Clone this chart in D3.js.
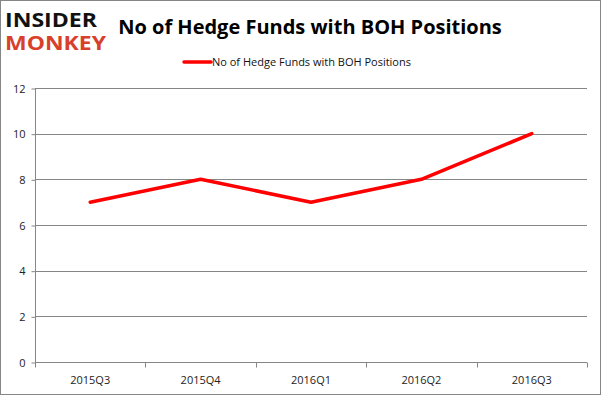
<!DOCTYPE html>
<meta charset="UTF-8">
<html>
<head>
<style>
body { margin: 0; background: #fff; }
text { font-family: "Open Sans", "Liberation Sans", sans-serif; }
.grid line { stroke: #868686; stroke-width: 1px; }
.axis path, .axis line { stroke: #868686; }
.tick text { fill: #222; font-size: 11px; }
</style>
</head>
<body>
<script src="https://cdn.jsdelivr.net/npm/d3@7"></script>
<script>

var quarters = ["2015Q3", "2015Q4", "2016Q1", "2016Q2", "2016Q3"];
var funds = [7, 8, 7, 8, 10];
var yTicks = [0, 2, 4, 6, 8, 10, 12];
var seriesName = "No of Hedge Funds with BOH Positions";

var W = 601, H = 395;
var plot = {left: 35, right: 587, top: 88, bottom: 362};

var svg = d3.select("body").append("svg")
    .attr("width", W)
    .attr("height", H);

// outer frame
svg.append("rect")
    .attr("x", 0.5).attr("y", 0.5)
    .attr("width", W - 1).attr("height", H - 1)
    .attr("fill", "#fff")
    .attr("stroke", "#868686");

var x = d3.scaleBand().domain(quarters).range([plot.left, plot.right]);
var y = d3.scaleLinear().domain([0, 12]).range([plot.bottom, plot.top]);

// gridlines
svg.append("g").attr("class", "grid")
  .selectAll("line")
  .data(yTicks.filter(function(d) { return d > 0; }))
  .enter().append("line")
    .attr("x1", plot.left).attr("x2", plot.right)
    .attr("y1", function(d) { return Math.round(y(d)) + 0.5; })
    .attr("y2", function(d) { return Math.round(y(d)) + 0.5; });

// y axis
var yAxis = svg.append("g").attr("class", "axis")
    .attr("transform", "translate(" + (plot.left + 0.5) + ",0.5)")
    .call(d3.axisLeft(y).tickValues(yTicks).tickSize(4).tickPadding(6).tickSizeOuter(0));
yAxis.select(".domain").attr("d", "M0," + y(12) + "V" + y(0));

// x axis
var xAxis = svg.append("g").attr("class", "axis")
    .attr("transform", "translate(0," + (Math.round(plot.bottom) + 0.5) + ")")
    .call(d3.axisBottom(x).tickSize(0).tickPadding(14));
xAxis.select(".domain").attr("d", "M" + plot.left + ",0H" + plot.right);
xAxis.selectAll(".sep")
  .data(quarters.concat(["end"]))
  .enter().append("line")
    .attr("class", "sep")
    .attr("x1", function(d, i) { return Math.round(plot.left + i * x.step()) + 0.5; })
    .attr("x2", function(d, i) { return Math.round(plot.left + i * x.step()) + 0.5; })
    .attr("y1", 0).attr("y2", 5)
    .attr("stroke", "#868686");

// series line
var line = d3.line()
    .x(function(d, i) { return x(quarters[i]) + x.bandwidth() / 2; })
    .y(function(d) { return y(d); });

svg.append("path")
    .datum(funds)
    .attr("d", line)
    .attr("fill", "none")
    .attr("stroke", "#ff0000")
    .attr("stroke-width", 3.5)
    .attr("stroke-linejoin", "round")
    .attr("stroke-linecap", "round");

// title
svg.append("text")
    .attr("x", 310).attr("y", 34)
    .attr("text-anchor", "middle")
    .attr("font-size", "20px")
    .attr("font-weight", "bold")
    .attr("fill", "#000")
    .text(seriesName);

// legend
svg.append("line")
    .attr("x1", 184).attr("x2", 211)
    .attr("y1", 62).attr("y2", 62)
    .attr("stroke", "#ff0000")
    .attr("stroke-width", 3.5)
    .attr("stroke-linecap", "round");
svg.append("text")
    .attr("x", 212).attr("y", 66)
    .attr("font-size", "11px")
    .attr("fill", "#111")
    .text(seriesName);

// logo
var logo = svg.append("g").attr("transform", "translate(5,0) scale(1,1.35)");
logo.append("text")
    .attr("x", 0).attr("y", 20)
    .attr("font-family", "'DejaVu Sans Condensed', sans-serif")
    .attr("font-weight", "bold")
    .attr("font-size", "14px")
    .attr("textLength", 92)
    .attr("lengthAdjust", "spacingAndGlyphs")
    .attr("fill", "#111")
    .text("INSIDER");
logo.append("text")
    .attr("x", 0).attr("y", 37)
    .attr("font-family", "'DejaVu Sans Condensed', sans-serif")
    .attr("font-weight", "bold")
    .attr("font-size", "14px")
    .attr("textLength", 101)
    .attr("lengthAdjust", "spacingAndGlyphs")
    .attr("fill", "#d9402b")
    .text("MONKEY");

</script>
</body>
</html>
